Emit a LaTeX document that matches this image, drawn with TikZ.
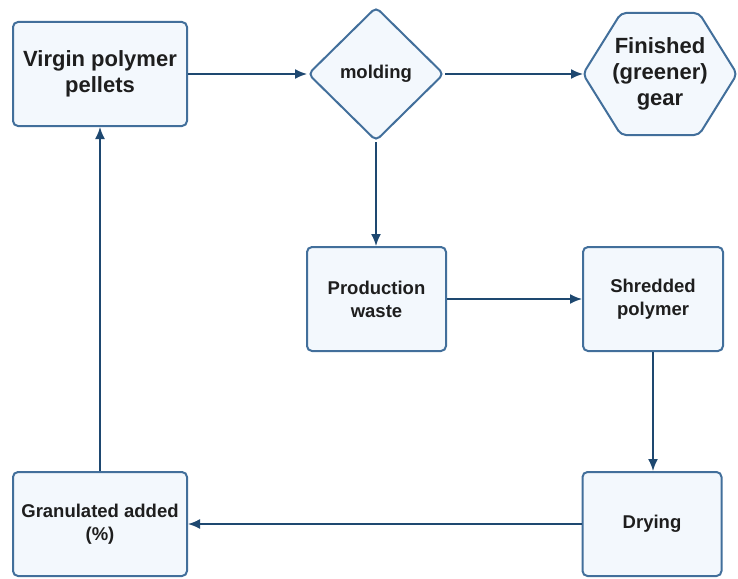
\documentclass[tikz,border=0pt]{standalone}
\usepackage{fontspec}
\setmainfont{Liberation Sans}
\usetikzlibrary{arrows.meta,shapes.geometric,backgrounds}
\definecolor{BoxClr}{RGB}{66,111,155}
\definecolor{FillClr}{RGB}{243,248,253}
\definecolor{ArrowClr}{RGB}{30,72,112}
\definecolor{TextClr}{RGB}{30,30,30}

\tikzset{
  stage/.style={draw=BoxClr,fill=FillClr,line width=2pt,rounded corners=5pt,
    align=center,text=TextClr,inner sep=0pt,
    font=\fontsize{18.5}{23}\selectfont\bfseries},
  bigtext/.style={font=\fontsize{22}{26}\selectfont\bfseries},
  box/.style={stage,rectangle,minimum width=139pt,minimum height=104pt},
  flow/.style={draw=ArrowClr,line width=1.7pt,-{Latex[length=12pt,width=10pt]}}
}

\begin{document}
\begin{tikzpicture}[x=1pt,y=-1pt]
\useasboundingbox (0,0) rectangle (738,578);

\node[box,bigtext,minimum width=174pt] (virgin) at (100,74) {Virgin polymer\\pellets};
\node[stage,diamond,minimum width=136pt,minimum height=134pt] (mold) at (376,74) {molding};
\node[stage,bigtext,draw=none,fill=none,minimum width=152pt,minimum height=120pt]
  (gear) at (660,74) {Finished\\(greener)\\gear};
% hexagon outline round the gear node
\begin{pgfonlayer}{background}
\draw[stage] (gear.west) -- ([xshift=38pt]gear.north west) -- ([xshift=-38pt]gear.north east)
  -- (gear.east) -- ([xshift=-38pt]gear.south east) -- ([xshift=38pt]gear.south west) -- cycle;
\end{pgfonlayer}

\node[box] (waste) at (376.5,299) {Production\\waste};
\node[box,minimum width=140pt] (shred) at (653,299) {Shredded\\polymer};

\node[box,minimum width=174pt] (gran) at (100,524) {Granulated added\\(\%)};
\node[box] (dry) at (652,524) {Drying};

\draw[flow] (virgin.east) -- (mold.west);
\draw[flow] (mold.east) -- (gear.west);
\draw[flow] (mold.south) -- (mold.south |- waste.north);
\draw[flow] (waste.east) -- (shred.west);
\draw[flow] (shred.south) -- (shred.south |- dry.north);
\draw[flow] (dry.west) -- (gran.east);
\draw[flow] (gran.north) -- (virgin.south);

\end{tikzpicture}
\end{document}
